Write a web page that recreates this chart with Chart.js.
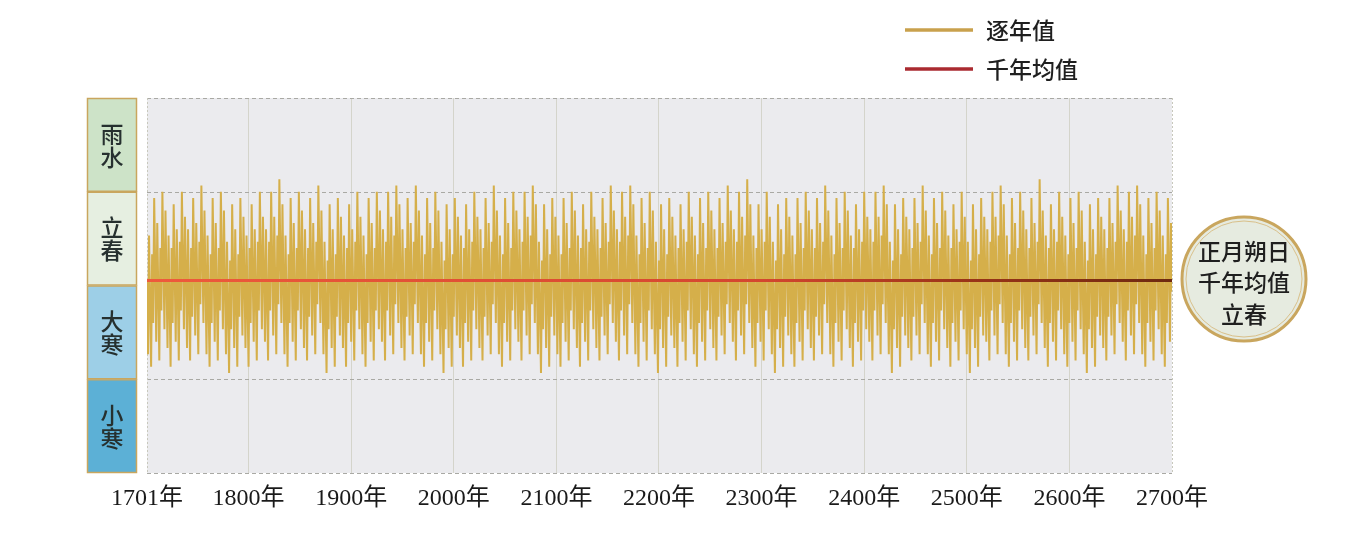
<!DOCTYPE html>
<html>
<head>
<meta charset="utf-8">
<script src="https://cdn.jsdelivr.net/npm/chart.js@4"></script>
<style>
  html, body { margin: 0; padding: 0; background: #fff; }
  #wrap { width: 1345px; height: 533px; position: relative; }
</style>
</head>
<body>
<div id="wrap"><canvas id="lunarChart" width="1345" height="533"></canvas></div>
<script>
// 正月朔日相对立春的日数（逐年，1701年—2700年）
const firstYear = 1701;
const lastYear = 2700;
const tickYears = [1701, 1800, 1900, 2000, 2100, 2200, 2300, 2400, 2500, 2600, 2700];
const bandNames = ['小寒', '大寒', '立春', '雨水'];
const bandEdges = [-30, -15, 0, 15, 30];
const meanValue = 0.8;
const yearlyValues = [
  1,-11,8,-3,-13,5,-6,14,3,-9,10,-1,-12,6,-4,15,4,-7,12,
  1,-10,8,-3,-13,6,-6,13,2,-9,9,-1,-12,7,-4,15,4,-7,11,
  2,-10,9,-2,-12,6,-5,14,3,-8,10,0,-11,7,-3,16,5,-6,12,
  1,-11,8,-3,-13,5,-6,14,3,-9,10,-1,-12,6,-4,15,4,-7,12,
  0,-11,7,-4,-14,4,-7,13,2,-10,9,-2,-13,5,-5,14,3,-8,11,
  1,-10,8,-3,-13,6,-6,13,2,-9,9,-1,-12,7,-4,15,4,-7,11,
  2,-9,9,-2,-12,7,-4,15,4,-8,11,0,-11,8,-3,17,5,-6,13,
  1,-11,8,-3,-13,5,-6,14,3,-9,10,-1,-12,6,-4,15,4,-7,12,
  2,-10,9,-2,-12,6,-5,14,3,-8,10,0,-11,7,-3,16,5,-6,12,
  0,-11,7,-4,-14,4,-7,13,2,-10,9,-2,-13,5,-5,14,3,-8,11,
  1,-10,8,-3,-13,6,-6,13,2,-9,9,-1,-12,7,-4,15,4,-7,11,
  1,-11,8,-3,-13,5,-6,14,3,-9,10,-1,-12,6,-4,15,4,-7,12,
  2,-9,9,-2,-12,7,-4,15,4,-8,11,0,-11,8,-3,16,5,-6,13,
  2,-10,9,-2,-12,6,-5,14,3,-8,10,0,-11,7,-3,16,5,-6,12,
  1,-11,8,-3,-13,5,-6,14,3,-9,10,-1,-12,6,-4,15,4,-7,12,
  0,-11,7,-4,-14,4,-7,13,2,-10,9,-2,-13,5,-5,14,3,-8,11,
  1,-10,8,-3,-13,6,-6,13,2,-9,9,-1,-12,7,-4,15,4,-7,11,
  2,-10,9,-2,-12,6,-5,14,3,-8,10,0,-11,7,-3,16,5,-6,12,
  1,-11,8,-3,-13,5,-6,14,3,-9,10,-1,-12,6,-4,15,4,-7,12,
  2,-9,9,-2,-12,7,-4,15,4,-8,11,0,-11,8,-3,16,5,-6,13,
  0,-11,7,-4,-14,4,-7,13,2,-10,9,-2,-13,5,-5,14,3,-8,11,
  1,-11,8,-3,-13,5,-6,14,3,-9,10,-1,-12,6,-4,15,4,-7,12,
  1,-10,8,-3,-13,6,-6,13,2,-9,9,-1,-12,7,-4,15,4,-7,11,
  2,-10,9,-2,-12,6,-5,14,3,-8,10,0,-11,7,-3,16,5,-6,12,
  2,-9,9,-2,-12,7,-4,15,4,-8,11,0,-11,8,-3,16,5,-6,13,
  1,-11,8,-3,-13,5,-6,14,3,-9,10,-1,-12,6,-4,15,4,-7,12,
  0,-11,7,-4,-14,4,-7,13,2,-10,9,-2,-13,5,-5,14,3,-8,11,
  1,-10,8,-3,-13,6,-6,13,2,-9,9,-1,-12,7,-4,15,4,-7,11,
  1,-11,8,-3,-13,5,-6,14,3,-9,10,-1,-12,6,-4,15,4,-7,12,
  2,-10,9,-2,-12,6,-5,14,3,-8,10,0,-11,7,-3,16,5,-6,12,
  2,-9,9,-2,-12,7,-4,15,4,-8,11,0,-11,8,-3,17,5,-6,13,
  1,-10,8,-3,-13,6,-6,13,2,-9,9,-1,-12,7,-4,15,4,-7,11,
  0,-11,7,-4,-14,4,-7,13,2,-10,9,-2,-13,5,-5,14,3,-8,11,
  1,-11,8,-3,-13,5,-6,14,3,-9,10,-1,-12,6,-4,15,4,-7,12,
  2,-10,9,-2,-12,6,-5,14,3,-8,10,0,-11,7,-3,16,5,-6,12,
  1,-11,8,-3,-13,5,-6,14,3,-9,10,-1,-12,6,-4,15,4,-7,12,
  1,-10,8,-3,-13,6,-6,13,2,-9,9,-1,-12,7,-4,15,4,-7,11,
  2,-9,9,-2,-12,7,-4,15,4,-8,11,0,-11,8,-3,16,5,-6,13,
  0,-11,7,-4,-14,4,-7,13,2,-10,9,-2,-13,5,-5,14,3,-8,11,
  2,-10,9,-2,-12,6,-5,14,3,-8,10,0,-11,7,-3,16,5,-6,12,
  1,-11,8,-3,-13,5,-6,14,3,-9,10,-1,-12,6,-4,15,4,-7,12,
  1,-10,8,-3,-13,6,-6,13,2,-9,9,-1,-12,7,-4,15,4,-7,11,
  0,-11,7,-4,-14,4,-7,13,2,-10,9,-2,-13,5,-5,14,3,-8,11,
  2,-9,9,-2,-12,7,-4,15,4,-8,11,0,-11,8,-3,16,5,-6,13,
  1,-11,8,-3,-13,5,-6,14,3,-9,10,-1,-12,6,-4,15,4,-7,12,
  2,-10,9,-2,-12,6,-5,14,3,-8,10,0,-11,7,-3,17,5,-6,12,
  1,-10,8,-3,-13,6,-6,13,2,-9,9,-1,-12,7,-4,15,4,-7,11,
  1,-11,8,-3,-13,5,-6,14,3,-9,10,-1,-12,6,-4,15,4,-7,12,
  0,-11,7,-4,-14,4,-7,13,2,-10,9,-2,-13,5,-5,14,3,-8,11,
  2,-10,9,-2,-12,6,-5,14,3,-8,10,0,-11,7,-3,16,5,-6,12,
  2,-9,9,-2,-12,7,-4,15,4,-8,11,0,-11,8,-3,16,5,-6,13,
  1,-11,8,-3,-13,5,-6,14,3,-9,10,-1,-12,6,-4,15,4,-7,12,
  1,-11,8,-3,-13,5,-6,14,3,-9,10,-1
];

// 配色
const goldColor = '#d5af4a';
const bandColors = ['#5cb0d6', '#9dcfe7', '#e6efe1', '#cde3c8'];
const edgeGold = '#c9a65e';
const serifFont = "'Liberation Serif', 'DejaVu Serif', serif";
const cjkFont = "'Noto Sans CJK SC', sans-serif";

// 背景、分带虚线、左侧节气栏、右侧圆章、图例
const decorPlugin = {
  id: 'decor',
  beforeDraw(chart) {
    const { ctx, chartArea: a } = chart;
    ctx.save();
    ctx.fillStyle = '#ebebee';
    ctx.fillRect(a.left, a.top, a.right - a.left, a.bottom - a.top);
    ctx.restore();
  },
  beforeDatasetsDraw(chart) {
    const { ctx, chartArea: a, scales: { y } } = chart;
    ctx.save();
    ctx.strokeStyle = '#a9a9a4';
    ctx.lineWidth = 1;
    ctx.setLineDash([4, 3]);
    bandEdges.forEach(v => {
      if (v === 0) return;
      const py = Math.round(y.getPixelForValue(v)) + 0.5;
      ctx.beginPath();
      ctx.moveTo(a.left, py);
      ctx.lineTo(a.right, py);
      ctx.stroke();
    });
    ctx.strokeStyle = '#c8c8bc';
    ctx.setLineDash([2, 2]);
    [a.left, a.right].forEach(px => {
      ctx.beginPath();
      ctx.moveTo(Math.round(px) + 0.5, a.top);
      ctx.lineTo(Math.round(px) + 0.5, a.bottom);
      ctx.stroke();
    });
    ctx.restore();
  },
  afterDraw(chart) {
    const { ctx, scales: { y } } = chart;
    ctx.save();

    // 左侧节气栏
    const colL = 87, colW = 50;
    bandNames.forEach((name, i) => {
      const y1 = y.getPixelForValue(bandEdges[i + 1]);
      const y0 = y.getPixelForValue(bandEdges[i]);
      ctx.fillStyle = bandColors[i];
      ctx.fillRect(colL, y1, colW, y0 - y1);
      ctx.strokeStyle = edgeGold;
      ctx.lineWidth = 1.5;
      ctx.strokeRect(colL + 0.5, y1 + 0.5, colW - 1, y0 - y1 - 1);
      ctx.fillStyle = '#26302f';
      ctx.font = '500 23px ' + cjkFont;
      ctx.textAlign = 'center';
      ctx.textBaseline = 'middle';
      const cy = (y0 + y1) / 2;
      ctx.fillText(name[0], colL + colW / 2, cy - 11);
      ctx.fillText(name[1], colL + colW / 2, cy + 12);
    });

    // 右侧圆章
    const cx = 1244, cy = 279, r = 62;
    ctx.beginPath();
    ctx.arc(cx, cy, r, 0, Math.PI * 2);
    ctx.fillStyle = '#e6ebe0';
    ctx.fill();
    ctx.lineWidth = 3;
    ctx.strokeStyle = edgeGold;
    ctx.stroke();
    ctx.beginPath();
    ctx.arc(cx, cy, r - 4, 0, Math.PI * 2);
    ctx.lineWidth = 1;
    ctx.strokeStyle = '#d9c08a';
    ctx.stroke();
    ctx.fillStyle = '#1f1f1f';
    ctx.font = '500 23px ' + cjkFont;
    ctx.textAlign = 'center';
    ctx.textBaseline = 'middle';
    ctx.fillText('正月朔日', cx, cy - 28);
    ctx.fillText('千年均值', cx, cy + 3);
    ctx.fillText('立春', cx, cy + 35);

    // 图例
    const legendItems = [
      { text: '逐年值', color: '#c9a14c', y: 30 },
      { text: '千年均值', color: '#aa2a30', y: 69 }
    ];
    legendItems.forEach(item => {
      ctx.strokeStyle = item.color;
      ctx.lineWidth = 3.5;
      ctx.beginPath();
      ctx.moveTo(905, item.y);
      ctx.lineTo(973, item.y);
      ctx.stroke();
      ctx.fillStyle = '#1f1f1f';
      ctx.font = '500 23px ' + cjkFont;
      ctx.textAlign = 'left';
      ctx.textBaseline = 'middle';
      ctx.fillText(item.text, 986, item.y);
    });

    ctx.restore();
  }
};

const ctx = document.getElementById('lunarChart');
new Chart(ctx, {
  type: 'line',
  data: {
    datasets: [
      {
        label: '逐年值',
        data: yearlyValues.map((v, i) => ({ x: firstYear + i, y: v })),
        borderColor: goldColor,
        borderWidth: 2,
        pointRadius: 0,
        tension: 0,
        order: 2
      },
      {
        label: '千年均值',
        data: [{ x: firstYear, y: meanValue }, { x: lastYear, y: meanValue }],
        borderColor: function (context) {
          const area = context.chart.chartArea;
          if (!area) return '#d9443a';
          const g = context.chart.ctx.createLinearGradient(area.left, 0, area.right, 0);
          g.addColorStop(0, '#ee5a3c');
          g.addColorStop(0.6, '#d4462f');
          g.addColorStop(0.8, '#9a3418');
          g.addColorStop(1, '#6e2a10');
          return g;
        },
        borderWidth: 3,
        pointRadius: 0,
        order: 1
      }
    ]
  },
  options: {
    responsive: false,
    animation: false,
    layout: { padding: { left: 147, right: 173, top: 98, bottom: 0 } },
    plugins: { legend: { display: false }, tooltip: { enabled: false } },
    scales: {
      x: {
        type: 'linear',
        min: firstYear,
        max: lastYear,
        afterBuildTicks: scale => { scale.ticks = tickYears.map(v => ({ value: v })); },
        afterFit: scale => { scale.height = 60; },
        ticks: {
          autoSkip: false,
          maxRotation: 0,
          padding: 11,
          color: '#1a1a1a',
          font: { size: 24, family: serifFont + ", 'Noto Sans CJK SC'" },
          callback: v => v + '年'
        },
        grid: {
          drawTicks: false,
          color: c => (c.tick && (c.tick.value === firstYear || c.tick.value === lastYear)) ? 'rgba(0,0,0,0)' : '#d4d4cb'
        },
        border: { display: false }
      },
      y: {
        display: false,
        min: bandEdges[0],
        max: bandEdges[bandEdges.length - 1]
      }
    }
  },
  plugins: [decorPlugin]
});
</script>
</body>
</html>
